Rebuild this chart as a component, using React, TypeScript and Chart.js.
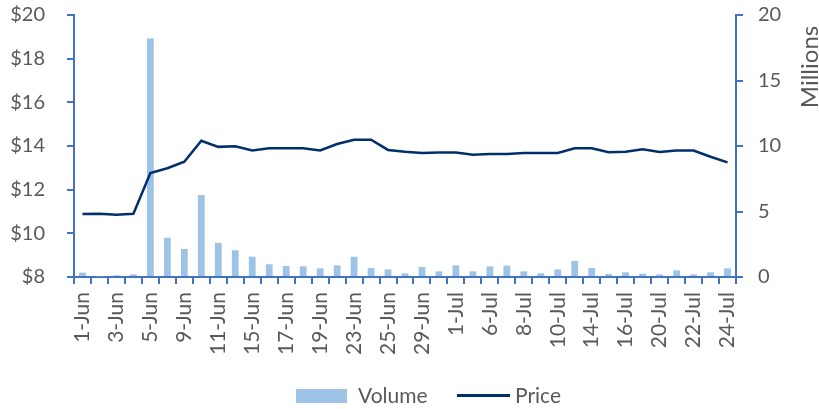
import React, { useEffect, useRef } from "react";
import { Chart, registerables } from "chart.js";

Chart.register(...registerables);

const categories: string[] = [
  "1-Jun", "2-Jun", "3-Jun", "4-Jun", "5-Jun", "8-Jun", "9-Jun", "10-Jun", "11-Jun", "12-Jun",
  "15-Jun", "16-Jun", "17-Jun", "18-Jun", "19-Jun", "22-Jun", "23-Jun", "24-Jun", "25-Jun", "26-Jun",
  "29-Jun", "30-Jun", "1-Jul", "2-Jul", "6-Jul", "7-Jul", "8-Jul", "9-Jul", "10-Jul", "13-Jul",
  "14-Jul", "15-Jul", "16-Jul", "17-Jul", "20-Jul", "21-Jul", "22-Jul", "23-Jul", "24-Jul",
];

// Volume in millions of shares
const volume: number[] = [
  0.33, 0.05, 0.13, 0.2, 18.2, 3.0, 2.14, 6.26, 2.6, 2.04,
  1.55, 0.97, 0.84, 0.81, 0.66, 0.89, 1.55, 0.69, 0.58, 0.28,
  0.76, 0.43, 0.89, 0.43, 0.81, 0.87, 0.43, 0.28, 0.58, 1.22,
  0.69, 0.23, 0.36, 0.25, 0.2, 0.51, 0.2, 0.36, 0.66,
];

// Price in dollars
const price: number[] = [
  10.89, 10.9, 10.85, 10.9, 12.76, 12.98, 13.28, 14.24, 13.96, 13.99,
  13.79, 13.9, 13.9, 13.9, 13.8, 14.09, 14.29, 14.29, 13.82, 13.74,
  13.68, 13.7, 13.7, 13.6, 13.63, 13.63, 13.68, 13.68, 13.68, 13.9,
  13.9, 13.71, 13.74, 13.85, 13.73, 13.79, 13.79, 13.51, 13.25,
];

const priceTicks = { min: 8, max: 20, step: 2 };
const volumeTicks = { min: 0, max: 20, step: 5 };
const volumeAxisTitle = "Millions";
const seriesNames = { volume: "Volume", price: "Price" };

const AXIS_COLOR = "#4472C4";
const TEXT_COLOR = "#595959";
const BAR_COLOR = "#9DC3E6";
const LINE_COLOR = "#002F6C";
const FONT = "Lato";

export default function App() {
  const canvasRef = useRef<HTMLCanvasElement | null>(null);

  useEffect(() => {
    const canvas = canvasRef.current;
    if (!canvas) return;

    const titlePlugin = {
      id: "rightTitle",
      afterDraw(chart: any) {
        const ctx = chart.ctx;
        ctx.save();
        ctx.translate(810, 67);
        ctx.rotate(-Math.PI / 2);
        ctx.fillStyle = TEXT_COLOR;
        ctx.font = `24px ${FONT}`;
        ctx.textAlign = "center";
        ctx.textBaseline = "middle";
        ctx.fillText(volumeAxisTitle, 0, 0);
        ctx.restore();
      },
    };

    const chart = new Chart(canvas, {
      type: "bar",
      data: {
        labels: categories,
        datasets: [
          {
            type: "line",
            label: seriesNames.price,
            data: price,
            yAxisID: "y",
            borderColor: LINE_COLOR,
            backgroundColor: LINE_COLOR,
            borderWidth: 2.5,
            pointRadius: 0,
            tension: 0,
            order: 0,
          } as any,
          {
            type: "bar",
            label: seriesNames.volume,
            data: volume,
            yAxisID: "y1",
            backgroundColor: BAR_COLOR,
            barPercentage: 0.4,
            categoryPercentage: 1,
            order: 1,
          },
        ],
      },
      options: {
        animation: false,
        responsive: false,
        maintainAspectRatio: false,
        layout: { padding: { top: 15, left: 0, right: 0, bottom: 0 } },
        plugins: {
          legend: { display: false },
          tooltip: { enabled: false },
        },
        scales: {
          x: {
            type: "category",
            offset: true,
            grid: {
              offset: true,
              drawOnChartArea: false,
              drawTicks: true,
              tickLength: 7,
              color: AXIS_COLOR,
              lineWidth: 2,
            },
            border: { color: AXIS_COLOR, width: 2 },
            ticks: {
              autoSkip: false,
              minRotation: 90,
              maxRotation: 90,
              padding: 8,
              color: TEXT_COLOR,
              font: { family: FONT, size: 21 },
              callback: (_v: any, i: number) => (i % 2 === 0 ? categories[i] : ""),
            },
            afterFit: (s: any) => {
              s.height = 132;
              s.paddingLeft = 0;
              s.paddingRight = 0;
            },
          },
          y: {
            position: "left",
            min: priceTicks.min,
            max: priceTicks.max,
            grid: {
              drawOnChartArea: false,
              drawTicks: true,
              tickLength: 7,
              color: AXIS_COLOR,
              lineWidth: 2,
            },
            border: { color: AXIS_COLOR, width: 2 },
            ticks: {
              stepSize: priceTicks.step,
              padding: 22,
              color: TEXT_COLOR,
              font: { family: FONT, size: 20 },
              callback: (v: any) => "$" + v,
            },
            afterFit: (s: any) => {
              s.width = 74;
              s.paddingTop = 0;
              s.paddingBottom = 0;
            },
          },
          y1: {
            position: "right",
            min: volumeTicks.min,
            max: volumeTicks.max,
            grid: {
              drawOnChartArea: false,
              drawTicks: true,
              tickLength: 7,
              color: AXIS_COLOR,
              lineWidth: 2,
            },
            border: { color: AXIS_COLOR, width: 2 },
            ticks: {
              stepSize: volumeTicks.step,
              padding: 15,
              color: TEXT_COLOR,
              font: { family: FONT, size: 20 },
            },
            afterFit: (s: any) => {
              s.width = 83;
              s.paddingTop = 0;
              s.paddingBottom = 0;
            },
          },
        },
      },
      plugins: [titlePlugin],
    });

    return () => chart.destroy();
  }, []);

  const textStyle: React.CSSProperties = {
    position: "absolute",
    top: 383,
    fontFamily: FONT,
    fontSize: 21,
    lineHeight: "24px",
    color: TEXT_COLOR,
    whiteSpace: "nowrap",
  };

  return (
    <div style={{ position: "fixed", left: 0, top: 0, width: 819, height: 409, background: "#fff" }}>
      <canvas ref={canvasRef} width={819} height={409} style={{ display: "block", width: 819, height: 409 }} />
      <div style={{ position: "absolute", left: 296, top: 389, width: 51, height: 14, background: BAR_COLOR }} />
      <div style={{ ...textStyle, left: 358 }}>{seriesNames.volume}</div>
      <div style={{ position: "absolute", left: 457, top: 394, width: 53, height: 2.5, background: LINE_COLOR }} />
      <div style={{ ...textStyle, left: 515 }}>{seriesNames.price}</div>
    </div>
  );
}
